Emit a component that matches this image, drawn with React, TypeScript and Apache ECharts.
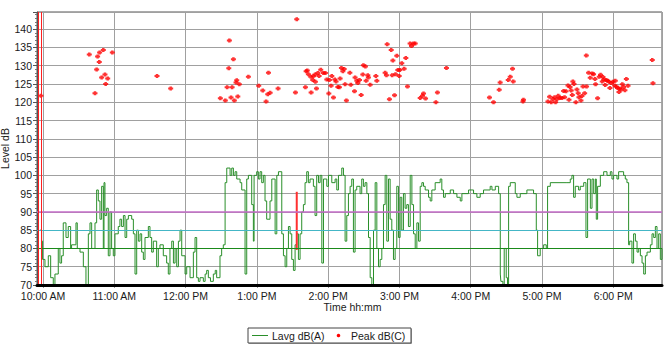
import React, { useEffect, useRef } from 'react';
import * as echarts from 'echarts';

// Time in minutes since midnight, level in dB
const lavgData: [number, number][] = [
  [597.5, 85], [598.9, 82], [599.7, 77], [601.7, 75], [604.5, 78], [606.5, 72], [608.7, 70], [610.1, 73],
  [612.9, 80], [614.3, 76], [615.7, 78], [617.1, 87], [619.4, 83], [621.3, 86], [623.3, 80], [624.1, 81],
  [627.8, 87], [628.9, 80], [631.2, 79], [634, 75], [636.2, 70], [638.2, 84], [639.6, 87], [641, 80],
  [643.8, 87], [645.2, 96], [646.6, 93], [648, 88], [649.4, 97], [650.8, 80], [651.4, 98], [652.2, 89],
  [653.6, 91], [655, 78], [656.4, 90], [657.8, 80], [659.2, 78], [660.6, 84], [663.4, 86], [664.8, 88],
  [666.2, 86], [667.7, 89], [669.1, 83], [670.5, 88], [671.9, 89], [674.7, 88], [676.1, 84], [677.5, 73],
  [678.9, 85], [680.3, 82], [681.7, 84], [683.1, 79], [684.5, 77], [685.9, 83], [688.7, 86], [690.1, 83],
  [691.5, 79], [692.9, 82], [695.7, 75], [697.1, 80], [698.5, 81], [701.3, 78], [704.1, 76], [705.5, 73],
  [706.9, 80], [708.4, 82], [709.8, 76], [711.2, 80], [712.6, 75], [714, 82], [715.4, 85], [716.8, 78],
  [719.6, 73], [721, 75], [723.8, 72], [726.6, 79], [728, 83], [729.4, 72], [730.8, 71], [732.2, 72],
  [735, 71], [736.5, 73], [737.8, 74], [739.2, 72], [741, 71], [743.4, 73], [745, 74], [746.2, 72],
  [749, 78], [750.4, 80], [751.8, 81], [753.3, 98], [754.7, 102], [757.5, 100], [758.9, 102], [760.3, 100],
  [761.7, 101], [763.1, 99], [765.9, 98], [767.3, 96], [770.1, 73], [771.5, 99], [772.9, 100], [775.7, 92],
  [777.1, 82], [777.7, 100], [779.9, 101], [781.3, 99], [782.7, 101], [784.1, 98], [785.5, 100], [786.9, 93],
  [788.3, 88], [791.1, 93], [792.6, 99], [795.4, 84], [796.8, 100], [798.2, 101], [801, 84], [802.4, 78],
  [803.8, 75], [805.2, 80], [806.6, 86], [808, 84], [809.4, 77], [810.8, 74], [812.2, 81], [813.6, 84],
  [815, 77], [816.4, 84], [817.8, 90], [819.2, 92], [820.6, 98], [822, 101], [823.4, 98], [824.8, 99],
  [827.6, 97], [829, 89], [830.4, 100], [831.9, 98], [833.3, 100], [834.7, 76], [836.1, 99], [838.9, 97],
  [840.3, 100], [843.1, 98], [845.9, 99], [847.3, 96], [848.7, 100], [851.5, 102], [852.9, 100], [854.3, 82],
  [855.7, 89], [857.1, 95], [858.5, 97], [859.9, 99], [861.3, 79], [862.7, 96], [864.1, 97], [866.9, 95],
  [868.3, 99], [869.7, 97], [871.1, 98], [872.6, 95], [874, 83], [875.4, 72], [876.8, 70], [878.2, 85],
  [879.6, 98], [881, 80], [882.4, 75], [883.8, 77], [885.2, 80], [886.6, 92], [888, 100], [889.4, 82],
  [890.8, 99], [892.2, 88], [893.6, 85], [895, 77], [896.4, 80], [897.8, 97], [899.2, 83], [900.6, 94],
  [902, 85], [903.4, 95], [904.8, 91], [906.2, 92], [907.6, 86], [909.1, 100], [910.5, 92], [911.9, 84],
  [913.3, 80], [914.7, 87], [916.1, 82], [917.5, 97], [918.9, 98], [920.3, 97], [921.7, 96], [924.5, 94],
  [925.9, 93], [927.3, 96], [930.1, 98], [934.3, 99], [935.7, 96], [937.1, 94], [938.6, 95], [942.8, 96],
  [945.6, 95], [948.4, 94], [951.2, 93], [952.6, 95], [958.2, 96], [962.4, 95], [965.2, 94], [968, 95],
  [970.8, 96], [976.4, 97], [977.9, 96], [980.7, 97], [983.5, 95], [984.9, 73], [985.4, 71], [987.1, 70],
  [988.2, 80], [989.9, 72], [991, 70], [991.9, 97], [993.3, 98], [997.5, 95], [998.9, 94], [1001.7, 95],
  [1007.3, 96], [1012.9, 95], [1015.2, 85], [1016.3, 78], [1018.5, 80], [1021.4, 81], [1023.6, 80], [1024.7, 97],
  [1027, 98], [1041, 98], [1043.8, 99], [1045.2, 100], [1046.6, 94], [1048, 97], [1050.8, 96], [1052.2, 97],
  [1055.1, 98], [1057, 83], [1058.4, 99], [1060.7, 91], [1062.1, 99], [1063.5, 95], [1064.9, 99], [1065.7, 88],
  [1066.8, 97], [1069.1, 100], [1071.9, 101], [1074.7, 100], [1077.5, 101], [1078.9, 99], [1080.3, 100], [1083.1, 99],
  [1084.5, 101], [1088.7, 100], [1090.1, 99], [1091.5, 98], [1092.9, 81], [1093.8, 82], [1095.7, 76], [1097.1, 84],
  [1098.6, 82], [1100, 79], [1101.4, 80], [1102.8, 78], [1104.2, 76], [1105.6, 73], [1107, 78], [1108.4, 79],
  [1111.2, 81], [1112.6, 84], [1114, 83], [1115.4, 86], [1116.8, 80], [1118.2, 84], [1119.6, 77], [1121, 80],
];

const peakData: [number, number][] = [
  [598.3, 121.8], [639, 133.1], [647.7, 133.6], [650.8, 134.3], [646, 132.5], [647.4, 131], [645.2, 129],
  [652.2, 127.6], [649.4, 126.8], [654.5, 126.5], [652.8, 125], [643.8, 122.5], [658.4, 133.6], [696, 127.2],
  [707.5, 123.8], [749.3, 121.1],
  [813.6, 142.7], [756.9, 136.9], [760.3, 131.8], [756.4, 129.3], [763.1, 126], [762.5, 125.4], [765.3, 124.9],
  [755, 124.1], [759.2, 124.1], [753.5, 120.5], [758.3, 121.3], [761.1, 120.5], [764, 121.6], [772.9, 127],
  [781.6, 124.5], [785, 123.2], [789.8, 128.1], [789.2, 122.2], [791.2, 122.6], [787.8, 120.2], [797.9, 123.8],
  [812.5, 122.7], [820.9, 124.1], [825.7, 122.7], [830.2, 123.8], [821.5, 128.5], [822.5, 128.7], [823.4, 127.7],
  [825.4, 127], [827.6, 127.1], [829, 127.6], [831.3, 128], [827.1, 126.1], [829.3, 125.6], [832.4, 127.2],
  [833.8, 128.9], [836, 128], [837.7, 128], [838.9, 126.2], [841.1, 126.1], [840.6, 122.4], [843.1, 127.2],
  [842.5, 124.5], [844.5, 121.3], [845.6, 126.2], [846.7, 125.7], [848.2, 124.2], [849.5, 124.1], [850.1, 126.5],
  [851.2, 129.4], [852.4, 128.5], [853.5, 129.1], [854.3, 124.9], [855.4, 120.5], [858.3, 128.1], [859.1, 124.8],
  [862.2, 123], [862.7, 126.8], [864.2, 125.9], [865, 125.3], [866.4, 126.1], [867.8, 122], [869.2, 127.6],
  [869.7, 130.1], [871.4, 129.8], [872, 125.9], [873.4, 127.4], [873.9, 126.8], [875.4, 124.8], [880.2, 127.2],
  [881, 125.9], [888, 128.1], [889.1, 127.4], [889.7, 135.9], [891.6, 120.8], [893.1, 134.3], [894.5, 131.4],
  [893.9, 127.4], [895.9, 121.9], [896.7, 127.7], [897.8, 132.7], [898.7, 128.8], [899.8, 127.2], [900.4, 128.8],
  [902, 130.7], [904, 129.2], [905.4, 132.1], [906.8, 124.3], [909, 136.1], [910.2, 135.4], [911.8, 136.1],
  [913.3, 136.1], [917.5, 121.2], [919.4, 121.8], [922, 121], [920.3, 122.4],
  [932, 122.7], [930.7, 120], [939.6, 129.4], [975.8, 121.3], [979.2, 120], [984, 123.4], [984.8, 125.4],
  [991.6, 126.1], [993.3, 127], [995.8, 125.7], [995.2, 129.2], [1004.4, 120.7], [1004, 120.2],
  [1025, 120.2], [1026.4, 121.5], [1027.8, 120], [1029.2, 120.9], [1030.6, 121.4], [1031.4, 120], [1032.6, 120.8],
  [1033.7, 121.8], [1035.1, 121.2], [1036.8, 121.2], [1038.2, 123.1], [1039, 121.4], [1040.2, 123], [1041.9, 124.6],
  [1042.7, 120.7], [1043.6, 124.2], [1044.6, 123.2], [1045.5, 122], [1046, 125.7], [1046.9, 125], [1048.5, 120],
  [1049.4, 123.5], [1050.5, 122.5], [1051.1, 121.4], [1052.8, 120.5], [1053.6, 121.7], [1054.5, 124.3],
  [1055.9, 122.5], [1057.5, 124.3], [1057.3, 132.8], [1059.2, 128.1], [1060.6, 126.7], [1062.3, 127.9],
  [1063.4, 127.7], [1064.6, 126.4], [1065.1, 124.9], [1066.8, 121.1], [1068.2, 127], [1069.3, 127.5],
  [1070.7, 125.7], [1071.3, 126.9], [1072.1, 126.2], [1073.2, 124.7], [1074.1, 126.1], [1075.2, 125.9],
  [1076.4, 125.6], [1077.2, 123.9], [1078.3, 125.3], [1079.7, 125.6], [1081.1, 124.6], [1081.7, 125.9],
  [1082.5, 124.3], [1083.6, 123.9], [1084.8, 122.8], [1085.3, 123.8], [1086.7, 123.5], [1087.6, 124.9],
  [1088.7, 124.2], [1089.8, 123.3], [1091, 126.4], [1092.4, 124.5], [1112.8, 131.6], [1113.4, 125.2],
];

// short stretch of the Lavg trace drawn in red
const overloadData: [number, number][] = [[813.6, 95.5], [813.6, 79.6]];
// red cursor lines at the left
const cursorMinutes = [596, 598.3];
// reference levels
const refLevels = [
  { level: 90, color: '#c46cc8' },
  { level: 85, color: '#44b6c6' },
  { level: 80, color: '#1a8a1a' },
];

const FONT = '"Liberation Sans", Arial, sans-serif';

function timeLabel(v: number): string {
  if (Math.abs(v % 60) > 0.001) return '';
  const h = Math.round(v / 60);
  const ap = h >= 12 ? 'PM' : 'AM';
  const h12 = h % 12 === 0 ? 12 : h % 12;
  return `${h12}:00 ${ap}`;
}

export default function App() {
  const ref = useRef<HTMLDivElement>(null);
  useEffect(() => {
    if (!ref.current) return;
    const chart = echarts.init(ref.current, null, { renderer: 'svg' });
    const green = '#2a8f2a';
    chart.setOption({
      animation: false,
      backgroundColor: '#ffffff',
      textStyle: { fontFamily: FONT },
      grid: [
        {
          left: 37, right: 3, top: 12, bottom: 68, containLabel: false, outerBoundsMode: 'none',
          show: true, borderColor: '#555', borderWidth: 1, backgroundColor: '#fff',
        },
        { left: 43, right: 3, top: 12, bottom: 68, containLabel: false, outerBoundsMode: 'none' },
      ],
      xAxis: [
        {
          gridIndex: 0, type: 'value', min: 595, max: 1121, z: 5,
          axisLine: { show: true, onZero: false, lineStyle: { color: '#000', width: 3 } },
          axisTick: { show: false }, axisLabel: { show: false }, splitLine: { show: false },
        },
        {
          gridIndex: 1, type: 'value', min: 600, max: 1121, interval: 60,
          axisLine: { show: false },
          axisTick: { show: true, length: 3, lineStyle: { color: '#999' } },
          axisLabel: { formatter: timeLabel, fontSize: 10.5, color: '#1a1a1a', margin: 5, showMaxLabel: false, fontFamily: FONT },
          splitLine: { show: true, lineStyle: { color: '#a0a0a0', width: 1 } },
          name: 'Time hh:mm', nameLocation: 'middle', nameGap: 16, nameMoveOverlap: false,
          nameTextStyle: { fontSize: 10.5, color: '#1a1a1a', fontFamily: FONT },
        },
      ],
      yAxis: [
        {
          gridIndex: 0, type: 'value', min: 70, max: 144.7, interval: 5,
          axisLine: { show: true, lineStyle: { color: '#555' } },
          axisTick: { show: true, length: 4, lineStyle: { color: '#555' } },
          minorTick: { show: true, splitNumber: 5, length: 2, lineStyle: { color: '#777' } },
          axisLabel: {
            formatter: (v: number) => (Math.abs(v % 5) < 0.001 ? String(v) : ''),
            fontSize: 10.5, color: '#1a1a1a', margin: 5, fontFamily: FONT,
          },
          splitLine: { show: true, lineStyle: { color: '#a0a0a0', width: 1 } },
          name: 'Level dB', nameLocation: 'middle', nameGap: 27, nameRotate: 90, nameMoveOverlap: false,
          nameTextStyle: { fontSize: 10.5, color: '#1a1a1a', fontFamily: FONT },
        },
        { gridIndex: 1, type: 'value', min: 0, max: 1, show: false },
      ],
      series: [
        {
          name: 'Lavg dB(A)', type: 'line', xAxisIndex: 0, yAxisIndex: 0, step: 'end',
          data: lavgData, showSymbol: false, symbol: 'none',
          lineStyle: { color: green, width: 1 }, itemStyle: { color: green },
          markLine: {
            silent: true, symbol: ['none', 'none'], label: { show: false },
            data: refLevels.map((r) => ({ yAxis: r.level, lineStyle: { color: r.color, width: r.level === 90 ? 1.5 : 1, type: 'solid' } })),
          },
        },
        {
          name: 'overload', type: 'line', xAxisIndex: 0, yAxisIndex: 0,
          data: overloadData, showSymbol: false, symbol: 'none',
          lineStyle: { color: '#ff3030', width: 2 },
        },
        {
          name: 'Peak dB(C)', type: 'scatter', xAxisIndex: 0, yAxisIndex: 0,
          data: peakData, symbol: 'path://M1,0H3V1H4V3H3V4H1V3H0V1H1Z', symbolSize: [5, 4],
          itemStyle: { color: '#ff0000' },
          markLine: {
            silent: true, symbol: ['none', 'none'], label: { show: false },
            data: cursorMinutes.map((m) => ({ xAxis: m, lineStyle: { color: '#ff2020', width: 1, type: 'solid' } })),
          },
        },
      ],
      graphic: [
        { type: 'rect', shape: { x: 249, y: 329, width: 163, height: 15 }, style: { fill: '#a8a8a8' }, z: 10 },
        { type: 'rect', shape: { x: 248, y: 328, width: 163, height: 15 }, style: { fill: '#fff', stroke: '#444', lineWidth: 1 }, z: 11 },
        { type: 'line', shape: { x1: 252, y1: 335.5, x2: 268, y2: 335.5 }, style: { stroke: green, lineWidth: 1 }, z: 12 },
        { type: 'text', x: 272, y: 335.5, style: { text: 'Lavg dB(A)', fill: '#1a1a1a', fontSize: 10.5, fontFamily: FONT, verticalAlign: 'middle' }, z: 12 },
        { type: 'circle', shape: { cx: 338.5, cy: 335.5, r: 1.8 }, style: { fill: '#ff0000' }, z: 12 },
        { type: 'text', x: 351, y: 335.5, style: { text: 'Peak dB(C)', fill: '#1a1a1a', fontSize: 10.5, fontFamily: FONT, verticalAlign: 'middle' }, z: 12 },
      ],
    });
    return () => chart.dispose();
  }, []);
  return <div ref={ref} style={{ position: 'absolute', left: 0, top: 0, width: 665, height: 353 }} />;
}
